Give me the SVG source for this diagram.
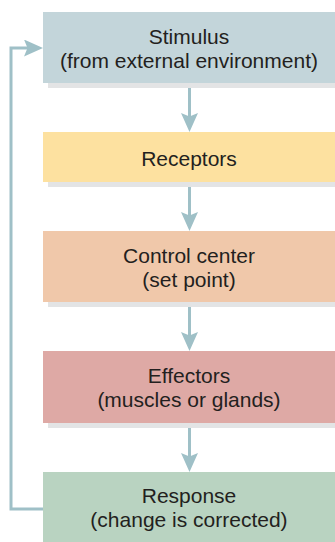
<svg xmlns="http://www.w3.org/2000/svg" width="335" height="542" viewBox="0 0 335 542">
<style>
.shadow{fill:#e3e4e5}
.lbl{font-family:"Liberation Sans",Arial,sans-serif;font-size:21px;fill:#231f20;text-anchor:middle}
.conn{fill:none;stroke:#9fc0c7;stroke-width:3}
</style>
<defs>
<marker id="ah" viewBox="0 0 19 17" refX="9" refY="8.5" markerWidth="19" markerHeight="17" markerUnits="userSpaceOnUse" orient="auto">
<path d="M0,0 L19,8.5 L0,17 L3.5,8.5 Z" fill="#9fc0c7"/>
</marker>
</defs>
<rect width="335" height="542" fill="#ffffff"/>
<g id="connectors">
<path class="conn" d="M189.5,83 V122" marker-end="url(#ah)"/>
<path class="conn" d="M189.5,182 V221" marker-end="url(#ah)"/>
<path class="conn" d="M189.5,302 V341" marker-end="url(#ah)"/>
<path class="conn" d="M189.5,423 V462" marker-end="url(#ah)"/>
<path class="conn" d="M43,509 H11 V48 H33" marker-end="url(#ah)"/>
</g>
<g id="stimulus">
<rect class="shadow" x="48" y="17" width="287" height="71"/>
<rect x="43" y="12" width="292" height="71" fill="#c3d5da"/>
<text class="lbl" x="189" y="43.5">Stimulus</text>
<text class="lbl" x="189" y="67.5">(from external environment)</text>
</g>
<g id="receptors">
<rect class="shadow" x="48" y="137" width="287" height="50"/>
<rect x="43" y="132" width="292" height="50" fill="#fde1a0"/>
<text class="lbl" x="189" y="166">Receptors</text>
</g>
<g id="control-center">
<rect class="shadow" x="48" y="236" width="287" height="71"/>
<rect x="43" y="231" width="292" height="71" fill="#f0c8aa"/>
<text class="lbl" x="189" y="262.5">Control center</text>
<text class="lbl" x="189" y="286.5">(set point)</text>
</g>
<g id="effectors">
<rect class="shadow" x="48" y="356" width="287" height="72"/>
<rect x="43" y="351" width="292" height="72" fill="#dea9a5"/>
<text class="lbl" x="189" y="382.5">Effectors</text>
<text class="lbl" x="189" y="406.5">(muscles or glands)</text>
</g>
<g id="response">
<rect x="43" y="472" width="292" height="70" fill="#b9d3c1"/>
<text class="lbl" x="189" y="502.5">Response</text>
<text class="lbl" x="189" y="526.5">(change is corrected)</text>
</g>
</svg>
